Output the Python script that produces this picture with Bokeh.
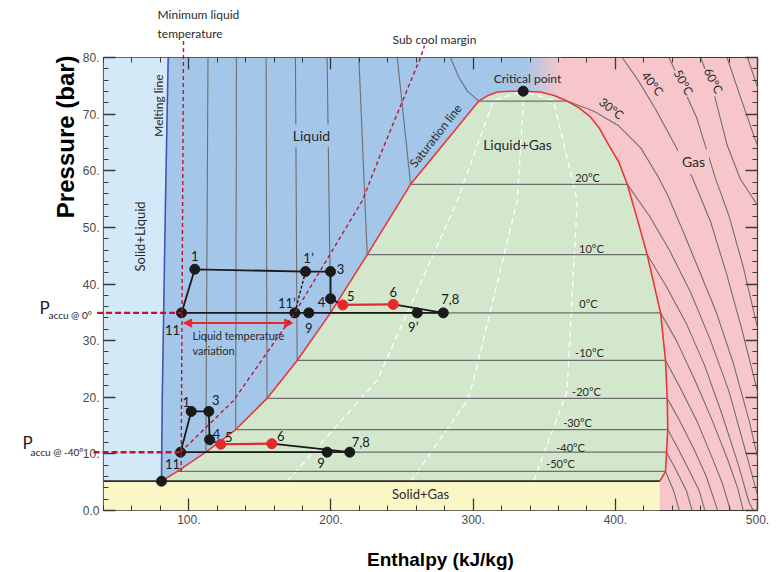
import numpy as np
from bokeh.plotting import figure
from bokeh.models import (Range1d, LinearAxis, SingleIntervalTicker, Label,
                          Arrow, NormalHead, ColumnDataSource, CustomJSTickFormatter)
from bokeh.core.properties import value
from bokeh.embed import file_html
from bokeh.resources import INLINE

# ---------------- CO2 pressure-enthalpy data (h in kJ/kg, p in bar) ----------------
# saturated liquid branch, triple point -> critical point
liq_h = [80.8, 92.0, 112.0, 133.0, 155.0, 176.2, 199.7, 225.5, 256.0, 284.0, 304.0, 310.5, 317.0, 326.0, 335.2]
liq_p = [5.18, 6.9, 10.3, 14.3, 19.8, 26.5, 34.9, 45.2, 57.6, 66.2, 72.3, 73.3, 73.9, 74.05, 74.05]
# saturated vapour branch, critical point -> triple point
vap_h = [335.2, 347.4, 357.0, 366.1, 374.5, 382.5, 388.8, 394.3, 402.5, 408.4, 415.4, 422.4,
         431.8, 435.3, 436.5, 436.9, 436.0, 435.3, 431.3]
vap_p = [74.05, 73.9, 73.3, 72.3, 71.1, 69.5, 67.5, 65.0, 61.5, 57.6, 51.5, 45.2,
         34.9, 26.5, 19.8, 14.3, 10.3, 6.9, 5.18]

triple_h, triple_p = 80.8, 5.18
crit_h, crit_p = 335.2, 74.05

# melting line
melt_h = [80.8, 81.3, 83.6, 85.5]
melt_p = [5.18, 19.4, 54.7, 80.0]

# isotherms inside the two-phase dome
iso_T = [-50, -40, -30, -20, -10, 0, 10, 20, 30]
iso_p = [6.9, 10.3, 14.3, 19.8, 26.5, 34.9, 45.2, 57.6, 72.3]
iso_hl = [92.0, 112.0, 133.0, 155.0, 176.2, 199.7, 225.5, 256.0, 304.0]
iso_hv = [435.3, 436.0, 436.9, 436.5, 435.3, 431.8, 422.4, 408.4, 366.1]

# liquid isotherms: enthalpy at the top of the chart (80 bar), -40 .. 20 degC
liq_iso_top_h = [113.5, 133.5, 154.4, 175.0, 197.3, 219.6, 246.6]
iso30_liq_h = [284.0, 289.9, 295.8, 304.0]
iso30_liq_p = [80.0, 76.5, 74.1, 72.3]

# vapour / supercritical isotherms
gas_iso = {
    -50: ([435.3, 441, 445], [6.9, 3.5, 0]),
    -40: ([436.0, 443, 450, 454], [10.3, 7, 3.5, 0]),
    -30: ([436.9, 444, 452, 459, 463], [14.3, 11, 7, 3.5, 0]),
    -20: ([436.5, 445, 455, 464, 472], [19.8, 16, 11, 6, 0]),
    -10: ([435.3, 445, 457, 467, 475, 481], [26.5, 22, 16, 10, 5, 0]),
    0: ([431.8, 443, 456, 468, 479, 486, 490], [34.9, 30, 23, 16, 9, 4, 0]),
    10: ([422.4, 436, 450, 463, 475, 486, 494, 497], [45.2, 39.5, 33, 25.5, 17, 8.5, 1.5, 0]),
    20: ([408.4, 424, 438, 453, 467, 480, 491, 503], [57.6, 52, 46, 38.5, 30, 21, 11, 0]),
    30: ([366.1, 385, 402, 418, 430, 437, 448, 458, 471, 483, 494, 506],
         [72.3, 70.5, 68, 64, 59, 55.6, 49.1, 43, 35, 26, 16, 3]),
    40: ([404.8, 416, 428, 441, 454, 467, 478, 489, 505], [80, 76, 71, 65, 58.9, 51, 42, 32, 16]),
    50: ([437.7, 447, 457, 470.5, 480, 490, 505], [80, 75, 69.5, 58.6, 52, 43, 27]),
    60: ([460.0, 469, 478.7, 488, 500, 505], [80, 74, 64.5, 58.5, 53.9, 52]),
    70: ([478.6, 488, 497, 505], [80, 73, 66.5, 61]),
    80: ([493.0, 505], [80, 71]),
}

# quality lines in the dome
qual_lines = [
    ([169.2, 232.5, 288.8, 314.3, 335.2], [5.18, 23.0, 54.7, 72.4, 74.05]),
    ([256.0, 295.8, 300.3, 331.0, 335.4, 335.2], [5.18, 19.4, 23.0, 54.7, 72.4, 74.05]),
    ([342.5, 366.0, 373.2, 356.5, 335.2], [5.18, 21.0, 54.7, 72.4, 74.05]),
]

# sub-cool margin and minimum liquid temperature
subcool_h = [94.2, 131.4, 174.6, 222.0, 236.0, 263.0, 265.8]
subcool_p = [10.3, 19.4, 34.9, 54.7, 63.6, 80.0, 82.1]
minliq_h = [94.6, 96.3]
minliq_p = [6.8, 83.0]

# cycle at accumulator 0 degC
c0_lab = ["11", "1", "1’", "3", "4", "5", "6", "7,8", "9’", "9", "11’"]
c0_h = [94.9, 104.2, 182.1, 199.7, 199.7, 208.3, 243.8, 279.0, 260.7, 184.4, 174.6]
c0_p = [34.9, 42.6, 42.2, 42.2, 37.4, 36.3, 36.4, 34.9, 34.9, 34.9, 34.9]
c0_dx = [-9, 0, 3, 10, -9, 8, 0, 7, -4, 0, -8]
c0_dy = [17, -13, -14, -3, 3, -9, -12, -14, 14, 15, -10]

# cycle at accumulator -40 degC
c40_lab = ["11", "1", "3", "4", "5", "6", "7,8", "9"]
c40_h = [94.2, 101.7, 114.1, 114.6, 122.5, 158.4, 213.2, 197.3]
c40_p = [10.3, 17.5, 17.5, 12.5, 11.7, 11.8, 10.3, 10.3]
c40_dx = [-8, -5, 7, 7, 8, 9, 11, -6]
c40_dy = [12, -9, -11, -6, -7, -8, -10, 11]

y_ticks = [0, 10, 20, 30, 40, 50, 60, 70, 80]
y_tick_text = ["0.0", "10.", "20.", "30.", "40.", "50.", "60.", "70.", "80."]
x_ticks = [100, 200, 300, 400, 500]
x_tick_text = ["100.", "200.", "300.", "400.", "500."]

# ---------------- colours ----------------
C_SL = "#d3e9f8"     # solid + liquid
C_L = "#a3c6e9"      # liquid
C_LG = "#d2e7cb"     # liquid + gas
C_G = "#f7c6ca"      # gas
C_SG = "#fbf6c6"     # solid + gas
C_ISO = "#6f6f6f"
C_SAT = "#e8363b"
C_DARKRED = "#c0142c"
C_RED = "#e52a2e"
FONT = "Lato"

p = figure(width=781, height=572, x_range=Range1d(40, 500), y_range=Range1d(0, 80),
           x_axis_type=None, y_axis_type=None, output_backend="svg", toolbar_location=None,
           min_border_left=103, min_border_right=24, min_border_top=57, min_border_bottom=62,
           background_fill_color=C_G, border_fill_color="white",
           outline_line_color="#3a3a3a", outline_line_width=1.2)
p.grid.visible = False


def make_axis(side, ticks, labels, interval):
    ax = LinearAxis(ticker=SingleIntervalTicker(interval=interval, num_minor_ticks=5),
                    axis_line_color=None, major_tick_in=12, major_tick_out=0,
                    minor_tick_in=5, minor_tick_out=0,
                    major_tick_line_color="#3a3a3a", minor_tick_line_color="#3a3a3a",
                    major_tick_line_width=1.3, minor_tick_line_width=1)
    if labels is None:
        ax.formatter = CustomJSTickFormatter(code="return ''")
        ax.major_label_standoff = 0
    else:
        ax.major_label_overrides = dict(zip(ticks, labels))
        ax.major_label_text_font = "Liberation Sans"
        ax.major_label_text_font_size = "12px"
        ax.major_label_text_color = "#4a4a4a"
        ax.major_label_standoff = 4
    p.add_layout(ax, side)
    return ax


make_axis("left", y_ticks, y_tick_text, 10)
make_axis("below", x_ticks, x_tick_text, 100)
make_axis("right", y_ticks, None, 10)
make_axis("above", x_ticks, None, 100)

# ---------------- phase regions ----------------
p.patch([40, 40] + melt_h[::-1], [triple_p, 80] + melt_p[::-1], fill_color=C_SL, line_color=None)
p.patch(melt_h + [crit_h] + liq_h[::-1],
        melt_p + [80] + liq_p[::-1], fill_color=C_L, line_color=None)

# blue-to-pink blend above the critical point
n_strip = 14
edges = np.linspace(crit_h, 362, n_strip + 1)
c0 = np.array([0xa3, 0xc6, 0xe9], dtype=float)
c1 = np.array([0xf7, 0xc6, 0xca], dtype=float)
cols = []
for i in range(n_strip):
    t = (i + 0.5) / n_strip
    c = (1 - t) * c0 + t * c1
    cols.append("#%02x%02x%02x" % tuple(int(round(v)) for v in c))
p.quad(left=edges[:-1], right=edges[1:] + 0.3, bottom=70, top=80, fill_color=cols, line_color=None)

# two-phase dome
p.patch(liq_h + vap_h[1:], liq_p + vap_p[1:], fill_color=C_LG, line_color=None)
# solid + gas band
p.quad(left=40, right=vap_h[-1], bottom=0, top=triple_p, fill_color=C_SG, line_color=None)

# ---------------- property lines ----------------
for qh, qp in qual_lines:
    p.line(qh, qp, line_color="white", line_width=1.3, line_dash="6 4")

p.multi_line([[a, b] for a, b in zip(iso_hl, iso_hv)], [[v, v] for v in iso_p],
             line_color=C_ISO, line_width=1.3)
p.multi_line([[t, b] for t, b in zip(liq_iso_top_h, iso_hl[1:8])],
             [[80, v] for v in iso_p[1:8]], line_color=C_ISO, line_width=1.1)
p.line(iso30_liq_h, iso30_liq_p, line_color=C_ISO, line_width=1.1)
p.multi_line([v[0] for v in gas_iso.values()], [v[1] for v in gas_iso.values()],
             line_color=C_ISO, line_width=1.1)

# saturation, melting and triple lines
p.line(liq_h + vap_h[1:], liq_p + vap_p[1:], line_color=C_SAT, line_width=1.6)
p.line(melt_h, melt_p, line_color="#3d56b8", line_width=1.6)
p.line([40, vap_h[-1]], [triple_p, triple_p], line_color="#2b2b2b", line_width=1.6)

# sub-cool margin and minimum liquid temperature (run past the frame)
p.line(subcool_h, subcool_p, line_color=C_DARKRED, line_width=1.4, line_dash="4 3", level="overlay")
p.line(minliq_h, minliq_p, line_color=C_DARKRED, line_width=1.4, line_dash="4 3", level="overlay")

# accumulator pressures
p.line([35.5, c0_h[0]], [c0_p[0], c0_p[0]], line_color=C_DARKRED, line_width=2.4,
       line_dash="6 3", level="overlay")
p.line([33.0, c40_h[0]], [c40_p[0], c40_p[0]], line_color=C_DARKRED, line_width=2.4,
       line_dash="6 3", level="overlay")

# ---------------- cycles ----------------
K = "#1a1a1a"
# 0 degC accumulator
p.line(c0_h[:6], c0_p[:6], line_color=K, line_width=1.8)
p.line(c0_h[5:7], c0_p[5:7], line_color=C_RED, line_width=2.2)
p.line(c0_h[6:8], c0_p[6:8], line_color=K, line_width=1.8)
p.line([c0_h[0], c0_h[7]], [c0_p[0], c0_p[7]], line_color=K, line_width=1.8)
p.line([c0_h[10], c0_h[2]], [c0_p[10], c0_p[2]], line_color=K, line_width=1.4, line_dash="3 2")
# -40 degC accumulator
p.line(c40_h[:5], c40_p[:5], line_color=K, line_width=1.8)
p.line(c40_h[4:6], c40_p[4:6], line_color=C_RED, line_width=2.2)
p.line(c40_h[5:7], c40_p[5:7], line_color=K, line_width=1.8)
p.line([c40_h[0], c40_h[6]], [c40_p[0], c40_p[6]], line_color=K, line_width=1.8)

red_idx0 = [5, 6]
red_idx40 = [4, 5]
for hs, ps, reds in ((c0_h, c0_p, red_idx0), (c40_h, c40_p, red_idx40)):
    cl = [C_RED if i in reds else K for i in range(len(hs))]
    p.scatter(hs, ps, size=10, marker="circle", fill_color=cl, line_color=cl)
p.scatter([triple_h], [triple_p], size=10, fill_color=K, line_color=K)
p.scatter([crit_h], [crit_p], size=10, fill_color=K, line_color=K)

for hs, ps, labs, dx, dy in ((c0_h, c0_p, c0_lab, c0_dx, c0_dy),
                             (c40_h, c40_p, c40_lab, c40_dx, c40_dy)):
    src = ColumnDataSource(dict(x=hs, y=ps, t=labs, dx=dx, dy=dy))
    p.text(x="x", y="y", text="t", x_offset="dx", y_offset="dy", source=src,
           text_font=value(FONT), text_font_size="13px", text_color="#1a1a1a",
           text_align="center", text_baseline="middle")

# liquid temperature variation arrow
p.add_layout(Arrow(start=NormalHead(size=8, fill_color=C_RED, line_color=C_RED),
                   end=NormalHead(size=8, fill_color=C_RED, line_color=C_RED),
                   x_start=c0_h[0] + 1.5, x_end=c0_h[10] - 1.5, y_start=33.1, y_end=33.1,
                   line_color=C_RED, line_width=2))


# ---------------- text ----------------
def lab(x, y, text, size="12px", angle=0, color="#2a2a2a", font=FONT, style="normal",
        align="center", baseline="middle", bg=None, pad=0):
    """In-frame annotation text."""
    l = Label(x=x, y=y, text=text, text_font=font, text_font_size=size, text_color=color,
              text_font_style=style, text_align=align, text_baseline=baseline,
              angle=angle, angle_units="deg")
    if bg is not None:
        l.background_fill_color = bg
        l.padding = pad
    p.add_layout(l)


def out_text(x, y, text, size="12px", angle=0, color="#2a2a2a", font=FONT, style="normal",
             align="center", baseline="middle"):
    """Text placed in the margins around the frame (drawn unclipped)."""
    p.text(x=[x], y=[y], text=[text], angle=angle, angle_units="deg",
           text_font=value(font), text_font_size=size, text_color=color,
           text_font_style=style, text_align=align, text_baseline=baseline,
           level="overlay")


out_text(78.0, 87.6, "Minimum liquid", align="left")
out_text(78.0, 84.2, "temperature", align="left")
out_text(243.3, 83.2, "Sub cool margin", align="left")

lab(78.7, 71.5, "Melting line", angle=90, size="12px")
lab(186.3, 66.2, "Liquid", size="14px", bg=C_L, pad=3)
lab(273.5, 66.2, "Saturation line", angle=52, size="12px")
lab(338.2, 76.3, "Critical point", size="12px")
lab(331.2, 64.6, "Liquid+Gas", size="14px")
lab(455.0, 61.6, "Gas", size="14px", bg=C_G, pad=4)
lab(66.0, 48.4, "Solid+Liquid", angle=90, size="13px")
lab(263.0, 2.83, "Solid+Gas", size="13px")
lab(426.2, 75.4, "40°C", angle=-52, size="12px", bg=C_G, pad=1)
lab(448.0, 75.6, "50°C", angle=-62, size="12px", bg=C_G, pad=1)
lab(469.1, 75.9, "60°C", angle=-63, size="12px", bg=C_G, pad=1)
lab(397.3, 71.0, "30°C", angle=-38, size="12px")

iso_lab_h = [361.4, 368.5, 373.4, 379.7, 381.8, 381.1, 383.2, 380.4]
iso_lab_p = [8.3, 11.1, 15.5, 21.0, 27.9, 36.6, 46.3, 58.8]
for T, hh, pp in zip(iso_T[:8], iso_lab_h, iso_lab_p):
    lab(hh, pp, f"{T}°C", size="11px")

lab(102.6, 30.9, "Liquid temperature", size="11px", align="left")
lab(102.6, 28.3, "variation", size="11px", align="left")

# accumulator pressure labels
out_text(-5.0, 35.85, "P", size="17px", color="#222", align="left")
out_text(1.3, 34.6, "accu @ 0°", size="10px", color="#222", align="left")
out_text(-17.0, 12.0, "P", size="17px", color="#222", align="left")
out_text(-11.3, 10.4, "accu @ -40°", size="10px", color="#222", align="left")

# axis titles
out_text(13.3, 66.0, "Pressure (bar)", angle=90, size="24px", color="black",
         font="Liberation Sans", style="bold")
out_text(277.0, -8.7, "Enthalpy (kJ/kg)", size="19px", color="black",
         font="Liberation Sans", style="bold")

open("out.html", "w").write(file_html(p, INLINE))
